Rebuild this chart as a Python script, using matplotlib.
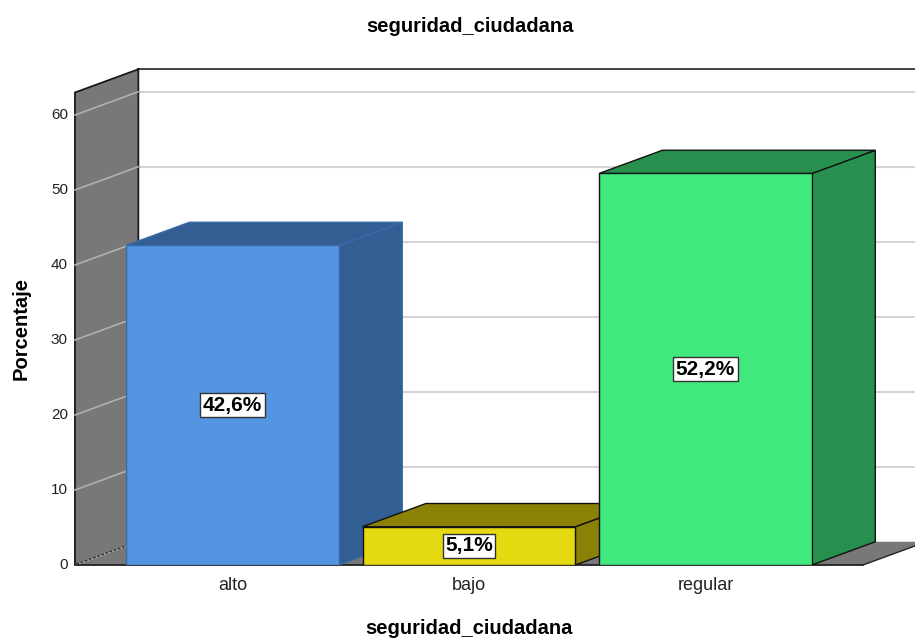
import matplotlib.pyplot as plt
from matplotlib.patches import Polygon, Rectangle

plt.rcParams['font.family'] = ['Liberation Sans', 'DejaVu Sans']

categorias = ['alto', 'bajo', 'regular']
porcentajes = [42.6, 5.1, 52.2]
etiquetas = ['42,6%', '5,1%', '52,2%']
color_frente = ['#5394e3', '#e5d912', '#42e97e']
color_lado = ['#335e93', '#8c8107', '#27904f']
color_borde = ['#3a6aa6', '#111111', '#111111']
ticks_y = [0, 10, 20, 30, 40, 50, 60]

# profundidad del efecto 3D (en unidades de datos)
dx = 0.268
dy = 3.1
ancho = 0.9
x_ini, x_fin = -0.666, 2.666
y_top = 63.0

fig = plt.figure(figsize=(9.15, 6.43), dpi=100)
W, H = 915, 643
ax = fig.add_axes([70 / W, (H - 565) / H, 845 / W, 505 / H])
ax.set_xlim(-0.687, 2.886)
ax.set_ylim(0, 505 / 7.5)
ax.axis('off')

# pared de fondo: lineas de rejilla
for t in ticks_y[1:]:
    ax.plot([x_ini + dx, 3.5], [t + dy, t + dy], color='#d4d4d4', lw=1.5, zorder=1)
ax.plot([x_ini + dx, 3.5], [y_top + dy, y_top + dy], color='#222222', lw=1.2, zorder=2)
ax.plot([x_ini + dx, x_ini + dx], [dy, y_top + dy], color='#222222', lw=1.2, zorder=2)

# pared izquierda
ax.add_patch(Polygon([(x_ini, 0), (x_ini, y_top), (x_ini + dx, y_top + dy), (x_ini + dx, dy)],
                     closed=True, facecolor='#787878', edgecolor='#1a1a1a', lw=1.3, zorder=3))
for t in ticks_y[1:]:
    ax.plot([x_ini, x_ini + dx], [t, t + dy], color='#b0b0b0', lw=1.2, zorder=4)
ax.plot([x_ini, x_ini + dx], [0, dy], color='#b5b5b5', lw=1.2, ls=':', zorder=4)

# suelo
ax.add_patch(Polygon([(x_ini, 0), (x_fin, 0), (x_fin + dx, dy), (x_ini + dx, dy)],
                     closed=True, facecolor='#787878', edgecolor='none', zorder=3, clip_on=False))
ax.plot([x_ini, x_fin], [0, 0], color='#222222', lw=1.3, zorder=4, clip_on=False)
ax.plot([x_fin, x_fin + dx], [0, dy], color='#222222', lw=1.0, zorder=4, clip_on=False)

# barras
for i, v in enumerate(porcentajes):
    z = 10 + i * 3
    izq, der = i - ancho / 2, i + ancho / 2
    ax.add_patch(Polygon([(der, 0), (der + dx, dy), (der + dx, v + dy), (der, v)], closed=True,
                         facecolor=color_lado[i], edgecolor=color_borde[i], lw=1.0, zorder=z))
    ax.add_patch(Polygon([(izq, v), (der, v), (der + dx, v + dy), (izq + dx, v + dy)], closed=True,
                         facecolor=color_lado[i], edgecolor=color_borde[i], lw=1.0, zorder=z))
    ax.add_patch(Rectangle((izq, 0), ancho, v, facecolor=color_frente[i],
                           edgecolor=color_borde[i], lw=1.0, zorder=z + 1))
    ax.text(i, v / 2, etiquetas[i], ha='center', va='center', fontsize=15, fontweight='bold',
            zorder=z + 2, bbox=dict(boxstyle='square,pad=0.12', facecolor='white',
                                    edgecolor='#333333', lw=1.0))
    ax.text(i, -1.6, categorias[i], ha='center', va='top', fontsize=13, color='#222222')

# eje y
for t in ticks_y:
    ax.text(x_ini - 0.03, t, str(t), ha='right', va='center', fontsize=11, color='#222222')

fig.text(470 / W, 1 - 27 / H, 'seguridad_ciudadana', ha='center', va='center',
         fontsize=14.5, fontweight='bold')
fig.text(469 / W, 1 - 629 / H, 'seguridad_ciudadana', ha='center', va='center',
         fontsize=14.5, fontweight='bold')
fig.text(21 / W, 1 - 329 / H, 'Porcentaje', ha='center', va='center', rotation=90,
         fontsize=14.5, fontweight='bold')

fig.savefig('out.png', dpi=100, facecolor='white')
